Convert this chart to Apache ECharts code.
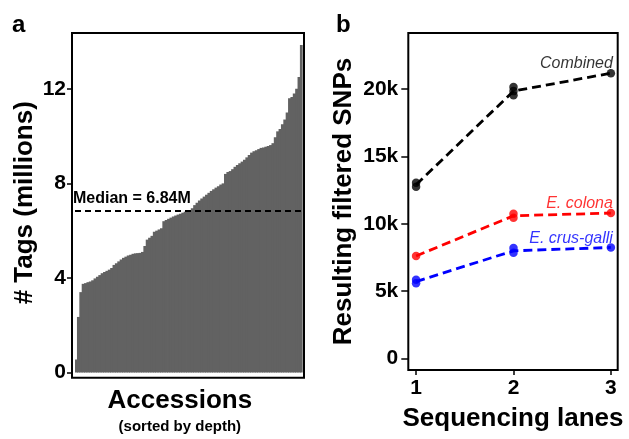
<!DOCTYPE html>
<html>
<head>
<meta charset="utf-8">
<script src="https://cdn.jsdelivr.net/npm/echarts@6/dist/echarts.min.js"></script>
<style>
  html, body { margin: 0; padding: 0; background: #fff; }
  #main { width: 629px; height: 439px; }
</style>
</head>
<body>
<div id="main"></div>
<script>
// panel a: tags per accession (millions), sorted by depth
const tagValues = [
  0.55, 2.35, 3.4, 3.75, 3.78, 3.82, 3.85, 3.9, 3.98, 4.05,
  4.12, 4.2, 4.25, 4.3, 4.35, 4.42, 4.55, 4.62, 4.7, 4.78,
  4.85, 4.9, 4.95, 4.98, 5.02, 5.04, 5.05, 5.06, 5.1, 5.35,
  5.62, 5.7, 5.78, 5.95, 6.0, 6.05, 6.1, 6.4, 6.45, 6.5,
  6.55, 6.6, 6.64, 6.68, 6.72, 6.76, 6.8, 6.83, 6.85, 6.95,
  7.08, 7.18, 7.28, 7.36, 7.44, 7.52, 7.6, 7.68, 7.75, 7.82,
  7.88, 7.95, 8.0, 8.4, 8.48, 8.52, 8.6, 8.7, 8.78, 8.85,
  8.92, 9.0, 9.1, 9.2, 9.3, 9.36, 9.4, 9.45, 9.5, 9.52,
  9.55, 9.58, 9.62, 9.7, 9.95, 10.2, 10.3, 10.5, 10.7, 11.0,
  11.6, 11.65, 11.8, 12.0, 12.5, 13.85
];
const accessions = tagValues.map((v, i) => 'acc' + (i + 1));
const medianTags = 6.84;
const tagTicks = [0, 4, 8, 12];

// panel b: filtered SNPs by number of sequencing lanes
const laneTicks = [1, 2, 3];
const snpTicks = [0, 5000, 10000, 15000, 20000];
const combinedMean = [12900, 19850, 21180];
const colonaMean = [7620, 10600, 10800];
const crusGalliMean = [5720, 8000, 8250];
const combinedPoints = [[1, 12750], [1, 13050], [2, 19550], [2, 19850], [2, 20150], [3, 21180]];
const colonaPoints = [[1, 7620], [2, 10450], [2, 10750], [3, 10800]];
const crusGalliPoints = [[1, 5600], [1, 5850], [2, 7850], [2, 8200], [3, 8250]];

const FONT = '"Liberation Sans", Arial, sans-serif';
const INK = '#000';
const BAR = '#626262';

function pointsWithLabel(points, text, color) {
  return points.map((p, i) => {
    if (i !== points.length - 1) return p;
    return {
      value: p,
      label: {
        show: true, formatter: text, position: 'top', align: 'right',
        offset: [2, 8], fontFamily: FONT, fontStyle: 'italic', fontSize: 16, color: color
      }
    };
  });
}

function laneSeries(mean, points, color, text) {
  return [
    {
      type: 'line', xAxisIndex: 2, yAxisIndex: 2,
      data: laneTicks.map((l, i) => [l, mean[i]]),
      showSymbol: false, symbol: 'none',
      lineStyle: { color: color, width: 2.8, type: [9, 5] },
      z: 3
    },
    {
      type: 'scatter', xAxisIndex: 2, yAxisIndex: 2,
      data: pointsWithLabel(points, text, color),
      symbolSize: 8.5,
      itemStyle: { color: color },
      z: 4
    }
  ];
}

const chart = echarts.init(document.getElementById('main'));
chart.setOption({
  animation: false,
  textStyle: { fontFamily: FONT },
  graphic: [
    { type: 'text', left: 12, top: 13, style: { text: 'a', font: 'bold 24px ' + FONT, fill: INK } },
    { type: 'text', left: 336, top: 13, style: { text: 'b', font: 'bold 24px ' + FONT, fill: INK } }
  ],
  grid: [
    { left: 75, right: 326.3, top: 33, bottom: 61.3 },
    { left: 72, right: 325, top: 33, bottom: 61.3, show: true, borderColor: INK, borderWidth: 2, z: 3 },
    { left: 408.3, right: 11.3, top: 33, bottom: 62.3, show: true, borderColor: INK, borderWidth: 2 }
  ],
  xAxis: [
    {
      gridIndex: 0, type: 'category', data: accessions,
      axisLine: { show: false }, axisTick: { show: false }, axisLabel: { show: false },
      name: '{a|Accessions}\n{b|(sorted by depth)}',
      nameLocation: 'middle', nameGap: 13,
      nameTextStyle: {
        padding: [0, 18, 0, 0],
        rich: {
          a: { fontFamily: FONT, fontWeight: 'bold', fontSize: 26, lineHeight: 30, color: INK },
          b: { fontFamily: FONT, fontWeight: 'bold', fontSize: 15, lineHeight: 22, color: INK }
        }
      }
    },
    { gridIndex: 1, type: 'value', show: false, min: 0, max: 1 },
    {
      gridIndex: 2, type: 'value', min: 0.92, max: 3.07,
      axisLine: { show: false, onZero: false },
      splitLine: { show: false },
      axisTick: { show: true, length: 5, customValues: laneTicks, lineStyle: { color: INK, width: 1.5 } },
      axisLabel: {
        customValues: laneTicks, margin: 8,
        fontFamily: FONT, fontWeight: 'bold', fontSize: 21, color: INK
      },
      name: 'Sequencing lanes', nameLocation: 'middle', nameGap: 32,
      nameTextStyle: { fontFamily: FONT, fontWeight: 'bold', fontSize: 26, lineHeight: 30, color: INK }
    }
  ],
  yAxis: [
    {
      gridIndex: 0, type: 'value', min: 0, max: 14.36, offset: 3,
      axisLine: { show: false },
      splitLine: { show: false },
      axisTick: { show: true, length: 5, customValues: tagTicks, lineStyle: { color: INK, width: 1.5 } },
      axisLabel: {
        customValues: tagTicks, margin: 6,
        fontFamily: FONT, fontWeight: 'bold', fontSize: 21, color: INK
      },
      name: '# Tags (millions)', nameLocation: 'middle', nameGap: 34,
      nameTextStyle: { fontFamily: FONT, fontWeight: 'bold', fontSize: 26, color: INK }
    },
    { gridIndex: 1, type: 'value', show: false, min: 0, max: 1 },
    {
      gridIndex: 2, type: 'value', min: -851, max: 24163,
      axisLine: { show: false, onZero: false },
      splitLine: { show: false },
      axisTick: { show: true, length: 7, customValues: snpTicks, lineStyle: { color: INK, width: 1.5 } },
      axisLabel: {
        customValues: snpTicks, margin: 10,
        fontFamily: FONT, fontWeight: 'bold', fontSize: 21, color: INK,
        formatter: v => (v === 0 ? '0' : v / 1000 + 'k')
      },
      name: 'Resulting filtered SNPs', nameLocation: 'middle', nameGap: 51,
      nameTextStyle: { fontFamily: FONT, fontWeight: 'bold', fontSize: 26, color: INK }
    }
  ],
  series: [
    {
      type: 'bar', xAxisIndex: 0, yAxisIndex: 0,
      data: tagValues,
      barWidth: 3.2,
      itemStyle: { color: BAR },
      markLine: {
        silent: true, symbol: 'none',
        lineStyle: { color: INK, width: 2, type: [6, 4] },
        label: {
          position: 'insideStartTop', formatter: 'Median = ' + medianTags + 'M',
          fontFamily: FONT, fontWeight: 'bold', fontSize: 16, color: INK, distance: [-2, 4]
        },
        data: [{ yAxis: medianTags }]
      }
    },
    ...laneSeries(combinedMean, combinedPoints, INK, 'Combined'),
    ...laneSeries(colonaMean, colonaPoints, '#ff0000', 'E. colona'),
    ...laneSeries(crusGalliMean, crusGalliPoints, '#0000ff', 'E. crus-galli')
  ]
});
</script>
</body>
</html>
